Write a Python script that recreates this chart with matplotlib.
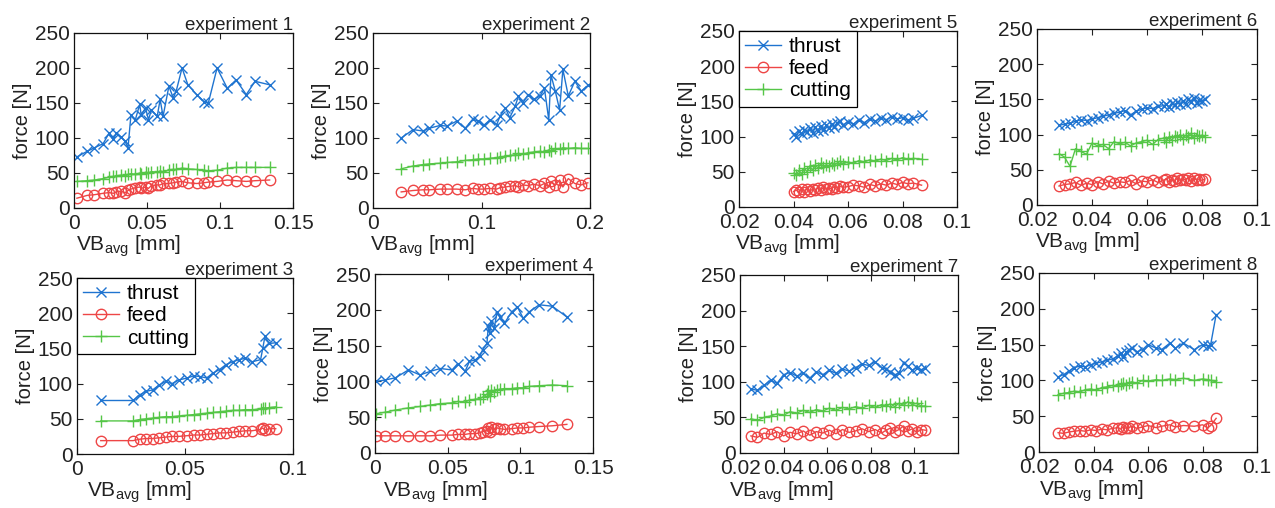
import matplotlib
matplotlib.use('Agg')
import matplotlib.pyplot as plt

plt.rcParams['font.family'] = ['Liberation Sans', 'DejaVu Sans']
plt.rcParams['mathtext.fontset'] = 'custom'
plt.rcParams['mathtext.rm'] = 'Liberation Sans'

# =====
# Data
# =====
exp1_vb = [0.002, 0.009, 0.014, 0.020, 0.024, 0.027, 0.029, 0.032, 0.035, 0.037, 0.039, 0.042,
           0.045, 0.046, 0.049, 0.051, 0.053, 0.057, 0.059, 0.061, 0.065, 0.068, 0.070, 0.074,
           0.078, 0.084, 0.089, 0.092, 0.098, 0.105, 0.111, 0.118, 0.124, 0.134]
exp1_thrust = [73, 81, 86, 92, 107, 98, 107, 102, 95, 86, 133, 126, 148, 133, 143, 126, 140, 131,
               155, 131, 174, 157, 167, 200, 176, 162, 152, 150, 200, 171, 183, 162, 181, 176]
exp1_feed = [14, 18, 19, 21, 22, 21, 23, 24, 22, 25, 27, 29, 30, 28, 30, 28, 32, 33, 33, 35, 35,
             36, 37, 38, 36, 35, 36, 37, 38, 40, 39, 38, 39, 40]
exp1_cutting = [38, 39, 40, 42, 44, 45, 46, 47, 46, 48, 49, 48, 50, 49, 51, 50, 52, 51, 53, 52, 54,
                55, 55, 57, 56, 55, 54, 53, 54, 57, 58, 58, 58, 58]

exp2_vb = [0.026, 0.037, 0.046, 0.052, 0.062, 0.068, 0.077, 0.085, 0.092, 0.097, 0.102, 0.108,
           0.114, 0.117, 0.122, 0.126, 0.131, 0.134, 0.138, 0.143, 0.148, 0.154, 0.158, 0.162,
           0.164, 0.168, 0.172, 0.175, 0.180, 0.186, 0.192, 0.198]
exp2_thrust = [100, 112, 110, 114, 118, 117, 124, 114, 127, 124, 118, 126, 119, 131, 143, 129,
               145, 160, 150, 162, 155, 160, 171, 126, 190, 167, 140, 198, 160, 181, 167, 175]
exp2_feed = [23, 25, 26, 26, 27, 27, 27, 26, 28, 27, 27, 28, 27, 29, 30, 31, 32, 30, 33, 32, 34,
             32, 35, 30, 38, 33, 40, 30, 42, 35, 33, 36]
exp2_cutting = [56, 60, 62, 63, 64, 65, 66, 68, 69, 70, 70, 71, 72, 73, 74, 75, 76, 78, 77, 79, 80,
                81, 80, 83, 82, 85, 84, 86, 85, 86, 85, 85]

exp3_vb = [0.011, 0.026, 0.029, 0.032, 0.035, 0.038, 0.041, 0.044, 0.047, 0.051, 0.054, 0.057,
           0.060, 0.063, 0.066, 0.069, 0.072, 0.075, 0.078, 0.081, 0.085, 0.086, 0.087, 0.089, 0.092]
exp3_thrust = [76, 76, 84, 89, 91, 98, 103, 100, 105, 108, 111, 110, 108, 115, 120, 127, 131, 134,
               136, 131, 134, 150, 167, 157, 158]
exp3_feed = [19, 19, 21, 22, 22, 23, 24, 25, 25, 26, 27, 27, 28, 29, 30, 30, 31, 32, 33, 33, 35,
             37, 34, 36, 36]
exp3_cutting = [47, 47, 49, 50, 51, 52, 53, 53, 54, 55, 56, 57, 58, 59, 60, 61, 62, 62, 63, 63, 64,
                66, 65, 66, 67]

exp4_vb = [0.001, 0.007, 0.014, 0.023, 0.031, 0.038, 0.045, 0.053, 0.057, 0.062, 0.065, 0.069,
           0.072, 0.074, 0.077, 0.078, 0.079, 0.080, 0.082, 0.084, 0.086, 0.089, 0.094, 0.098,
           0.102, 0.106, 0.113, 0.122, 0.132]
exp4_thrust = [100, 102, 105, 116, 109, 114, 118, 116, 125, 114, 128, 130, 135, 144, 153, 177, 167,
               184, 174, 197, 190, 181, 197, 204, 188, 197, 207, 205, 190]
exp4_feed = [24, 24, 24, 24, 24, 24, 25, 25, 26, 26, 27, 27, 28, 30, 31, 35, 29, 36, 33, 35, 34,
             33, 34, 35, 35, 36, 37, 38, 40]
exp4_cutting = [55, 57, 60, 63, 65, 67, 69, 70, 72, 71, 74, 75, 76, 78, 82, 86, 80, 88, 85, 88, 89,
                90, 90, 91, 91, 93, 94, 95, 94]

exp5_vb = [0.040, 0.041, 0.042, 0.043, 0.044, 0.045, 0.046, 0.047, 0.048, 0.049, 0.050, 0.051,
           0.052, 0.053, 0.054, 0.055, 0.056, 0.057, 0.058, 0.060, 0.062, 0.064, 0.066, 0.068,
           0.070, 0.072, 0.074, 0.076, 0.078, 0.080, 0.082, 0.084, 0.087]
exp5_thrust = [104, 100, 108, 103, 110, 106, 112, 105, 113, 108, 115, 110, 116, 112, 118, 114, 120,
               122, 116, 121, 118, 123, 120, 125, 122, 126, 124, 128, 125, 127, 123, 126, 130]
exp5_feed = [22, 24, 21, 25, 22, 26, 23, 25, 24, 27, 24, 28, 25, 27, 26, 29, 27, 30, 28, 29, 31,
             30, 28, 32, 30, 33, 31, 34, 32, 35, 33, 34, 31]
exp5_cutting = [48, 45, 52, 47, 55, 50, 58, 52, 60, 55, 62, 57, 60, 58, 63, 60, 62, 65, 61, 64, 62,
                66, 64, 67, 65, 68, 66, 69, 67, 70, 68, 69, 68]

exp6_vb = [0.028, 0.030, 0.032, 0.034, 0.036, 0.038, 0.040, 0.042, 0.044, 0.046, 0.048, 0.050,
           0.052, 0.054, 0.056, 0.058, 0.060, 0.062, 0.064, 0.066, 0.067, 0.068, 0.069, 0.070,
           0.071, 0.072, 0.073, 0.074, 0.075, 0.076, 0.077, 0.078, 0.079, 0.080, 0.081]
exp6_thrust = [113, 115, 116, 119, 121, 120, 122, 124, 126, 128, 130, 132, 134, 128, 133, 136, 138,
               137, 140, 141, 143, 139, 145, 142, 146, 144, 148, 143, 150, 147, 152, 145, 149, 148, 150]
exp6_feed = [27, 29, 30, 32, 28, 31, 29, 33, 30, 34, 31, 33, 32, 35, 30, 34, 33, 36, 32, 35, 37,
             33, 36, 34, 38, 35, 37, 36, 39, 34, 38, 36, 37, 35, 37]
exp6_cutting = [73, 68, 55, 80, 76, 72, 88, 84, 86, 80, 90, 87, 89, 84, 88, 90, 92, 86, 93, 95, 90,
                97, 92, 98, 96, 100, 94, 99, 97, 102, 95, 100, 98, 99, 97]

exp7_vb = [0.025, 0.028, 0.031, 0.034, 0.037, 0.040, 0.043, 0.046, 0.049, 0.052, 0.055, 0.058,
           0.061, 0.064, 0.067, 0.070, 0.073, 0.076, 0.079, 0.082, 0.085, 0.087, 0.089, 0.091,
           0.093, 0.095, 0.097, 0.099, 0.101, 0.103, 0.105]
exp7_thrust = [90, 88, 95, 102, 98, 110, 113, 108, 112, 105, 114, 110, 116, 112, 118, 115, 120, 125,
               123, 128, 120, 118, 114, 110, 112, 127, 122, 116, 120, 117, 119]
exp7_feed = [24, 22, 28, 26, 30, 24, 29, 27, 31, 25, 30, 28, 32, 27, 33, 29, 31, 34, 30, 33, 28,
             32, 35, 30, 33, 38, 31, 34, 29, 33, 32]
exp7_cutting = [48, 46, 50, 52, 55, 53, 58, 56, 60, 57, 61, 59, 63, 60, 64, 62, 65, 63, 67, 64, 68,
                66, 69, 65, 70, 67, 72, 68, 70, 66, 66]

exp8_vb = [0.027, 0.029, 0.031, 0.033, 0.035, 0.037, 0.039, 0.041, 0.043, 0.045, 0.047, 0.049,
           0.050, 0.051, 0.052, 0.053, 0.054, 0.056, 0.058, 0.060, 0.063, 0.065, 0.068, 0.070,
           0.073, 0.077, 0.080, 0.082, 0.083, 0.085]
exp8_thrust = [105, 108, 113, 118, 120, 119, 122, 124, 126, 128, 130, 134, 138, 132, 140, 142, 145,
               140, 143, 150, 145, 143, 152, 145, 152, 143, 150, 148, 150, 192]
exp8_feed = [27, 26, 28, 29, 30, 29, 31, 30, 32, 31, 33, 34, 32, 35, 33, 34, 36, 33, 35, 37, 34,
             36, 38, 35, 37, 36, 38, 34, 37, 47]
exp8_cutting = [80, 82, 83, 85, 84, 87, 88, 86, 90, 91, 93, 92, 95, 96, 94, 97, 98, 96, 100, 99,
                101, 100, 102, 101, 103, 100, 102, 101, 100, 98]

experiments = [
    ('experiment 1', exp1_vb, exp1_thrust, exp1_feed, exp1_cutting),
    ('experiment 2', exp2_vb, exp2_thrust, exp2_feed, exp2_cutting),
    ('experiment 3', exp3_vb, exp3_thrust, exp3_feed, exp3_cutting),
    ('experiment 4', exp4_vb, exp4_thrust, exp4_feed, exp4_cutting),
    ('experiment 5', exp5_vb, exp5_thrust, exp5_feed, exp5_cutting),
    ('experiment 6', exp6_vb, exp6_thrust, exp6_feed, exp6_cutting),
    ('experiment 7', exp7_vb, exp7_thrust, exp7_feed, exp7_cutting),
    ('experiment 8', exp8_vb, exp8_thrust, exp8_feed, exp8_cutting),
]

x_limits = [(0, 0.15), (0, 0.2), (0, 0.1), (0, 0.15), (0.02, 0.1), (0.02, 0.1), (0.02, 0.12), (0.02, 0.1)]
x_ticks = [[0, 0.05, 0.1, 0.15], [0, 0.1, 0.2], [0, 0.05, 0.1], [0, 0.05, 0.1, 0.15],
           [0.02, 0.04, 0.06, 0.08, 0.1], [0.02, 0.04, 0.06, 0.08, 0.1],
           [0.02, 0.04, 0.06, 0.08, 0.1], [0.02, 0.04, 0.06, 0.08, 0.1]]
x_tick_labels = [['0', '0.05', '0.1', '0.15'], ['0', '0.1', '0.2'], ['0', '0.05', '0.1'],
                 ['0', '0.05', '0.1', '0.15'], ['0.02', '0.04', '0.06', '0.08', '0.1'],
                 ['0.02', '0.04', '0.06', '0.08', '0.1'], ['0.02', '0.04', '0.06', '0.08', '0.1'],
                 ['0.02', '0.04', '0.06', '0.08', '0.1']]
y_ticks = [0, 50, 100, 150, 200, 250]
legend_panels = [2, 4]

# ======
# Layout
# ======
W, H = 1275, 508
# left, right, top, bottom in pixels
boxes = [(74, 293, 33, 208), (373, 590, 33, 208), (77, 293, 278, 454), (375, 593, 274, 453),
         (739, 957, 31, 207), (1037, 1257, 29, 205), (740, 958, 275, 453), (1039, 1257, 273, 452)]
xlabel_x = [0.25, 0.23, 0.29, 0.275, 0.22, 0.23, 0.19, 0.24]

blue = '#1f74d0'
red = '#ee4646'
green = '#55c647'

fig = plt.figure(figsize=(W / 100, H / 100), dpi=100)

for i, (title, vb, thrust, feed, cutting) in enumerate(experiments):
    l, r, t, b = boxes[i]
    ax = fig.add_axes([l / W, 1 - b / H, (r - l) / W, (b - t) / H])

    ax.plot(vb, thrust, color=blue, marker='x', markersize=6.5, linewidth=1, mew=1, label='thrust')
    ax.plot(vb, feed, color=red, marker='o', markersize=7.5, mfc='none', linewidth=1, mew=1,
            label='feed')
    ax.plot(vb, cutting, color=green, marker='+', markersize=8, linewidth=1, mew=1, label='cutting')

    ax.set_xlim(x_limits[i])
    ax.set_ylim(0, 250)
    ax.set_xticks(x_ticks[i])
    ax.set_xticklabels(x_tick_labels[i])
    ax.set_yticks(y_ticks)
    ax.tick_params(direction='in', top=True, right=True, length=4, width=0.8,
                   labelsize=15, colors='#222222')
    ax.tick_params(axis='x', pad=4.5)
    ax.tick_params(axis='y', pad=3)
    for sp in ax.spines.values():
        sp.set_linewidth(0.9)
        sp.set_color('#111111')

    ax.set_title(title, loc='right', fontsize=13.5, pad=2, color='#222222')
    ax.set_ylabel('force [N]', fontsize=14.5, labelpad=2, color='#222222')
    ax.set_xlabel(r'VB$_\mathregular{avg}$ [mm]', fontsize=15, color='#222222')
    ax.xaxis.set_label_coords(xlabel_x[i], -0.145)

    if i in legend_panels:
        leg = ax.legend(loc='upper left', borderaxespad=0, fancybox=False, edgecolor='black',
                        framealpha=1, fontsize=15, handlelength=1.7, handletextpad=0.4,
                        labelspacing=0.15, borderpad=0.3)
        leg.get_frame().set_linewidth(0.9)

plt.savefig('out.png', dpi=100)
